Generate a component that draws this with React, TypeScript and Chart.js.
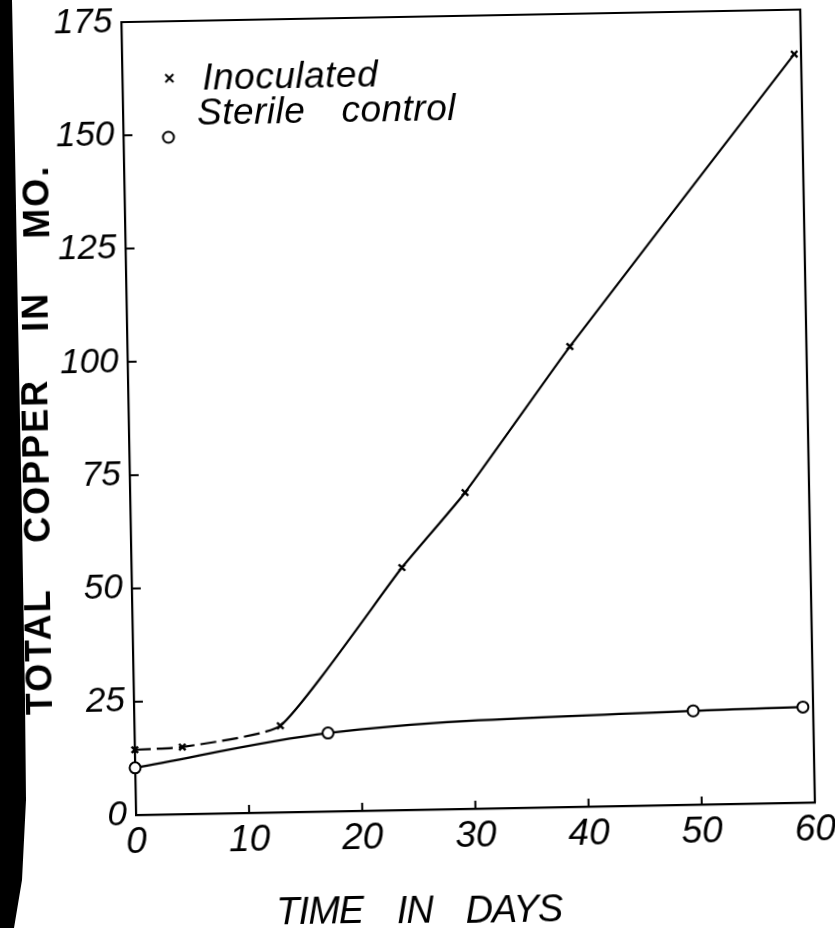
import React, { useEffect, useRef } from "react";
import { Chart, registerables } from "chart.js";

Chart.register(...registerables);

// Copper released into solution over time (mg)
const inoculatedDays = [0, 4.2, 12.9, 23.9, 29.6, 39.1, 59.4];
const inoculatedCopper = [14.4, 14.8, 19.1, 53.5, 69.8, 101.6, 165.2];
const sterileDays = [0, 17.1, 49.4, 59.1];
const sterileCopper = [10.4, 17.3, 20.7, 21.1];

const seriesNames = ["Inoculated", "Sterile control"];
const xTickValues = [0, 10, 20, 30, 40, 50, 60];
const yTickValues = [0, 25, 50, 75, 100, 125, 150, 175];
const xTitleWords = ["TIME", "IN", "DAYS"];
const yTitleWords = ["TOTAL", "COPPER", "IN", "MO."];

const FAMILY = "'Liberation Sans', Arial, sans-serif";
const W = 860;
const H = 950;
const AREA_LEFT = 136;
const AREA_TOP = 22;
const AREA_RIGHT = 815;
const AREA_BOTTOM = 815;

function setSpacing(ctx: any, px: number) {
  if ("letterSpacing" in ctx) ctx.letterSpacing = px + "px";
}

const framePlugin = {
  id: "frame",
  afterDraw(chart: any) {
    const { ctx, chartArea } = chart;
    const { left, top, right, bottom } = chartArea;
    const xs = chart.scales.x;
    const ys = chart.scales.y;
    ctx.save();
    ctx.strokeStyle = "#000";
    ctx.lineWidth = 2.2;
    // top and right edges of the box
    ctx.beginPath();
    ctx.moveTo(left, top);
    ctx.lineTo(right, top);
    ctx.lineTo(right, bottom);
    ctx.stroke();
    // inward tick marks
    ctx.lineWidth = 2;
    ctx.beginPath();
    xTickValues.slice(1, -1).forEach((v) => {
      const px = xs.getPixelForValue(v);
      ctx.moveTo(px, bottom);
      ctx.lineTo(px, bottom - 8);
    });
    yTickValues.slice(1, -1).forEach((v) => {
      const py = ys.getPixelForValue(v);
      ctx.moveTo(left, py);
      ctx.lineTo(left + 9, py);
    });
    ctx.stroke();

    // legend
    ctx.fillStyle = "#000";
    ctx.font = `italic 37px ${FAMILY}`;
    ctx.textBaseline = "alphabetic";
    ctx.textAlign = "left";
    setSpacing(ctx, 0.5);
    const cx = left + 47;
    const cy = top + 57;
    ctx.lineWidth = 2;
    ctx.beginPath();
    ctx.moveTo(cx - 4, cy - 4);
    ctx.lineTo(cx + 4, cy + 4);
    ctx.moveTo(cx + 4, cy - 4);
    ctx.lineTo(cx - 4, cy + 4);
    ctx.stroke();
    ctx.fillText(seriesNames[0], left + 80, top + 69);
    ctx.beginPath();
    ctx.arc(left + 45, top + 116, 5.5, 0, Math.PI * 2);
    ctx.fillStyle = "#fff";
    ctx.fill();
    ctx.stroke();
    ctx.fillStyle = "#000";
    const [w1, w2] = seriesNames[1].split(" ");
    ctx.fillText(w1, left + 74, top + 104);
    ctx.fillText(w2, left + 74 + ctx.measureText(w1).width + 36, top + 104);

    // x axis title
    ctx.font = `italic 38px ${FAMILY}`;
    setSpacing(ctx, -1);
    ctx.textAlign = "center";
    const xWordPos = [
      [318, 927],
      [413, 928],
      [512, 929],
    ];
    xTitleWords.forEach((w, i) => ctx.fillText(w, xWordPos[i][0], xWordPos[i][1]));

    // y axis title, read bottom to top
    ctx.font = `bold 36px ${FAMILY}`;
    setSpacing(ctx, 2);
    const yWordPos = [
      [44, 650],
      [45, 459],
      [47, 310],
      [50, 200],
    ];
    ctx.textBaseline = "middle";
    yTitleWords.forEach((w, i) => {
      ctx.save();
      ctx.translate(yWordPos[i][0], yWordPos[i][1]);
      ctx.rotate(-Math.PI / 2);
      ctx.fillText(w, 0, 0);
      ctx.restore();
    });
    ctx.restore();
  },
};

export default function App() {
  const ref = useRef<HTMLCanvasElement | null>(null);

  useEffect(() => {
    if (!ref.current) return;
    const chart = new Chart(ref.current, {
      type: "line",
      data: {
        datasets: [
          {
            label: seriesNames[0],
            data: inoculatedDays.map((d, i) => ({ x: d, y: inoculatedCopper[i] })),
            borderColor: "#000",
            borderWidth: 2.2,
            backgroundColor: "#000",
            pointStyle: "crossRot",
            pointRadius: 4.5,
            pointBorderWidth: 2.4,
            tension: 0.15,
            clip: false,
            segment: {
              borderDash: (c: any) => (c.p0DataIndex < 2 ? [16, 6] : undefined),
            },
          },
          {
            label: seriesNames[1],
            data: sterileDays.map((d, i) => ({ x: d, y: sterileCopper[i] })),
            borderColor: "#000",
            borderWidth: 2.2,
            backgroundColor: "#fff",
            pointStyle: "circle",
            pointRadius: 5.5,
            pointBorderWidth: 2,
            cubicInterpolationMode: "monotone",
            clip: false,
          },
        ],
      },
      options: {
        animation: false,
        responsive: false,
        devicePixelRatio: 1,
        layout: {
          padding: { left: 0, top: AREA_TOP, right: W - AREA_RIGHT, bottom: 0 },
        },
        plugins: {
          legend: { display: false },
          tooltip: { enabled: false },
        },
        scales: {
          x: {
            type: "linear",
            min: 0,
            max: 60,
            afterBuildTicks: (s: any) => {
              s.ticks = xTickValues.map((v) => ({ value: v }));
            },
            afterFit: (s: any) => {
              s.height = H - AREA_BOTTOM;
              s.paddingLeft = 0;
              s.paddingRight = 0;
            },
            grid: { display: true, drawOnChartArea: false, drawTicks: false },
            border: { display: true, color: "#000", width: 2.2 },
            ticks: {
              color: "#000",
              autoSkip: false,
              maxRotation: 0,
              padding: 6,
              font: { family: FAMILY, style: "italic", size: 37 },
            },
          },
          y: {
            type: "linear",
            min: 0,
            max: 175,
            afterBuildTicks: (s: any) => {
              s.ticks = yTickValues.map((v) => ({ value: v }));
            },
            afterFit: (s: any) => {
              s.width = AREA_LEFT;
              s.paddingTop = 0;
              s.paddingBottom = 0;
            },
            grid: { display: true, drawOnChartArea: false, drawTicks: false },
            border: { display: true, color: "#000", width: 2.2 },
            ticks: {
              color: "#000",
              padding: 9,
              font: { family: FAMILY, style: "italic", size: 35 },
            },
          },
        },
      },
      plugins: [framePlugin],
    } as any);
    return () => chart.destroy();
  }, []);

  return (
    <div
      style={{
        position: "absolute",
        left: 0,
        top: 0,
        width: 835,
        height: 928,
        overflow: "hidden",
        background: "#fff",
      }}
    >
      <canvas
        ref={ref}
        width={W}
        height={H}
        style={{
          position: "absolute",
          left: 0,
          top: 0,
          width: W,
          height: H,
          transform: "rotate(-1.06deg)",
          transformOrigin: `${AREA_LEFT}px ${AREA_BOTTOM}px`,
        }}
      />
      <div
        style={{
          position: "absolute",
          left: 0,
          top: 0,
          width: 34,
          height: 928,
          background: "#000",
          clipPath:
            "polygon(0 0, 12px 0, 15px 150px, 18px 320px, 22px 520px, 25px 700px, 26px 800px, 22px 880px, 14px 928px, 0 928px)",
        }}
      />
    </div>
  );
}
